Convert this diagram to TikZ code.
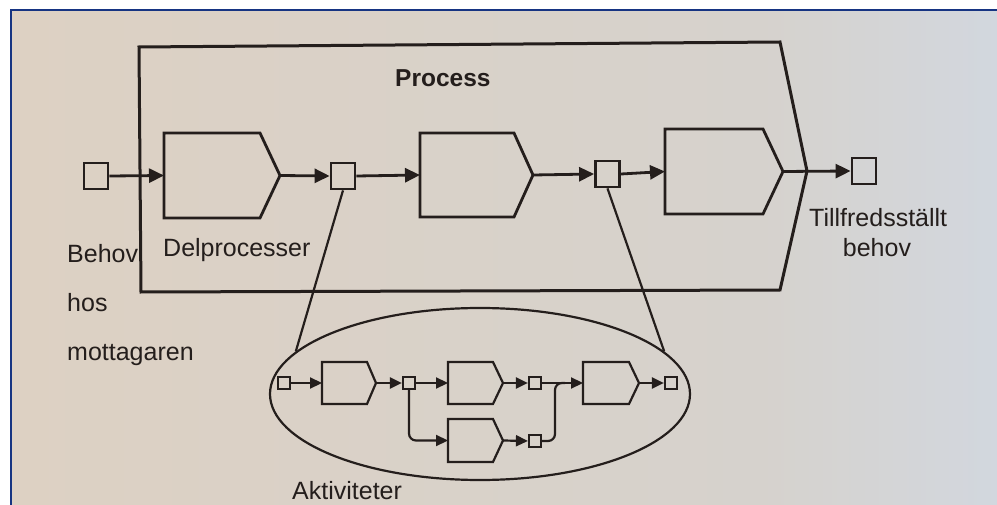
\documentclass[tikz,border=0pt]{standalone}
\usepackage{fontspec}
\setmainfont{Liberation Sans}
\usetikzlibrary{shapes.geometric,arrows.meta}

\definecolor{ink}{RGB}{36,30,28}
\definecolor{paperL}{RGB}{221,209,195}
\definecolor{paperM}{RGB}{214,210,205}
\definecolor{paperR}{RGB}{210,215,222}
\definecolor{frameblue}{RGB}{22,52,130}

\tikzset{
  bigline/.style={line width=2.8pt, draw=ink},
  smallline/.style={line width=2.2pt, draw=ink},
  flow/.style={bigline, -{Triangle[length=15pt,width=14pt]}},
  subflow/.style={smallline, -{Triangle[length=12pt,width=11pt]}},
  port/.style={bigline, rectangle, minimum width=24pt, minimum height=26pt, inner sep=0pt},
  subport/.style={smallline, rectangle, minimum size=12pt, inner sep=0pt},
  txt/.style={font=\fontsize{25}{30}\selectfont, text=ink, inner sep=0pt},
}

% a pentagon "step" shape: name, x, y, width, height, pointer depth, line style
\newcommand{\procstep}[7]{%
  \node[minimum width=#4pt, minimum height=#5pt, inner sep=0pt, outer sep=0pt] (#1) at (#2,#3) {};
  \draw[#7, line join=miter] (#1.north west) -- ([xshift=-#6pt]#1.north east) -- (#1.east)
    -- ([xshift=-#6pt]#1.south east) -- (#1.south west) -- cycle;
}

\begin{document}
\begin{tikzpicture}[x=1pt, y=-1pt]
\useasboundingbox (0,0) rectangle (997,505);

% page background and frame
\fill[white] (0,0) rectangle (997,505);
\shade[left color=paperL, right color=paperM] (11,10) rectangle (760,505);
\shade[left color=paperM, right color=paperR] (760,10) rectangle (997,505);
\draw[frameblue, line width=2pt] (11,505) -- (11,10) -- (997,10);

% process outline
\coordinate (p1) at (139,47);
\coordinate (p2) at (780,42);
\coordinate (p3) at (807,171);
\coordinate (p4) at (780,290);
\coordinate (p5) at (141,292);
\draw[bigline, line width=3pt, line join=miter] (p1) -- (p2) -- (p3) -- (p4) -- (p5) -- cycle;

% main chain of sub-processes
\node[port] (in) at (96,176) {};
\procstep{S1}{222}{175.5}{116}{85}{20}{bigline}
\node[port] (m1) at (343,176) {};
\procstep{S2}{476.5}{175}{113}{84}{19}{bigline}
\node[port] (m2) at (607.5,174) {};
\procstep{S3}{724}{171.5}{118}{85}{20}{bigline}
\node[port] (out) at (864,171) {};

\draw[flow] (in.east) -- (S1.west);
\draw[flow] (S1.east) -- (m1.west);
\draw[flow] (m1.east) -- (S2.west);
\draw[flow] (S2.east) -- (m2.west);
\draw[flow] (m2.east) -- (S3.west);
\draw[flow] (S3.east) -- (out.west);

% activity detail
\node[smallline, draw, ellipse, minimum width=420pt, minimum height=172pt, inner sep=0pt] (ell) at (480,394) {};
\draw[smallline] (m1.south) -- (ell.167);
\draw[smallline] (m2.south) -- (ell.13);

\node[subport] (a) at (284,383) {};
\procstep{A1}{349}{383}{54}{42}{9}{smallline}
\node[subport] (b) at (409,383) {};
\procstep{A2}{475.5}{383}{55}{42}{10}{smallline}
\node[subport] (c) at (535,383) {};
\procstep{A4}{611}{383}{56}{42}{10}{smallline}
\node[subport] (e) at (671,383) {};
\procstep{A3}{475.5}{440.5}{55}{43}{10}{smallline}
\node[subport] (d) at (535,441) {};
\coordinate (mj) at (555,383);

\draw[subflow] (a.east) -- (A1.west);
\draw[subflow] (A1.east) -- (b.west);
\draw[subflow] (b.east) -- (A2.west);
\draw[subflow] (A2.east) -- (c.west);
\draw[subflow] (c.east) -- (A4.west);
\draw[subflow] (A4.east) -- (e.west);
\draw[subflow, rounded corners=7pt] (b.south) |- (A3.west);
\draw[subflow] (A3.east) -- (d.west);
\draw[smallline, rounded corners=7pt] (d.east) -| (mj) -- ++(10,0);

% labels
\node[txt, font=\fontsize{24.5}{28}\selectfont\bfseries, anchor=base west] (lproc) at (395,87) {Process};
\node[txt, anchor=base west] (lbehov) at (67,263) {Behov};
\node[txt, anchor=base west] (lhos) at (67,312) {hos};
\node[txt, anchor=base west] (lmott) at (67,360) {mottagaren};
\node[txt, anchor=base west] (ldel) at (163,257) {Delprocesser};
\node[txt, anchor=base west] (ltill) at (809,227) {Tillfredsställt};
\node[txt, anchor=base] (lbeh2) at (877,257) {behov};
\node[txt, anchor=base west] (lakt) at (292,499) {Aktiviteter};
\end{tikzpicture}
\end{document}
